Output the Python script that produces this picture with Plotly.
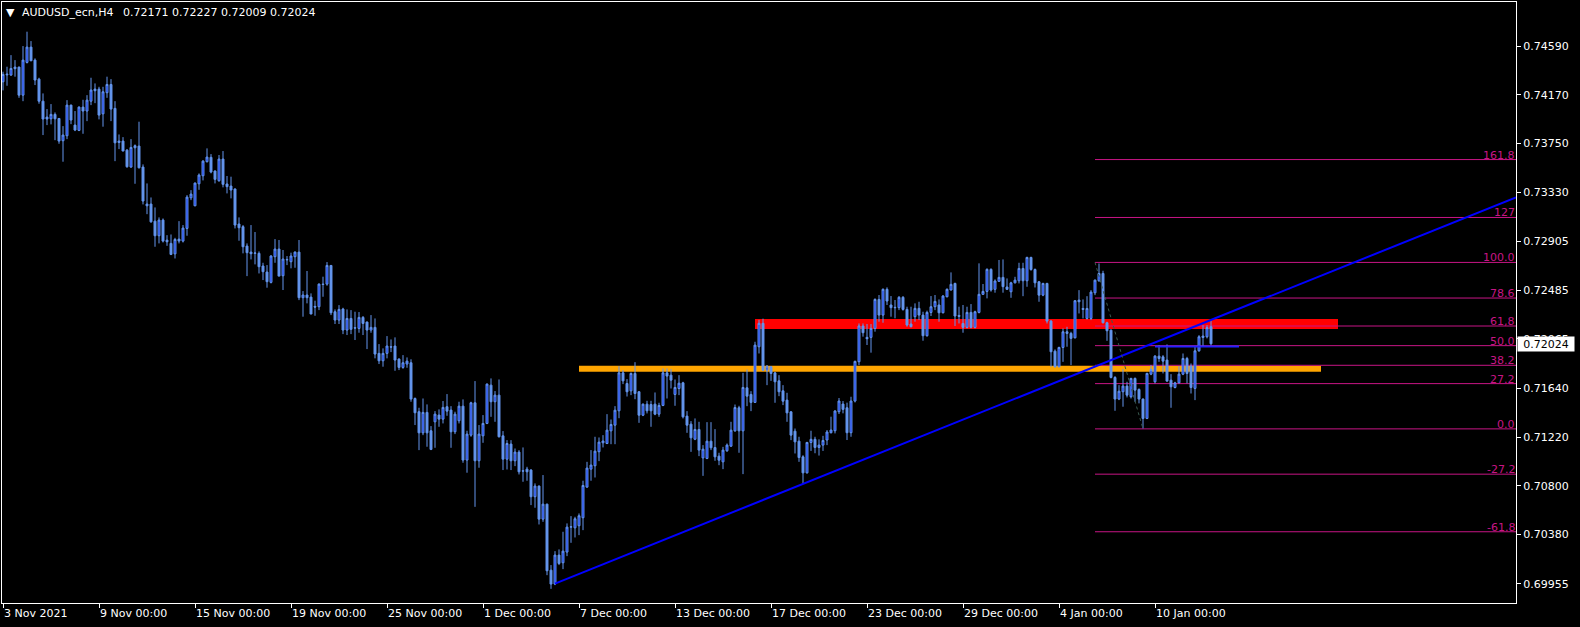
import plotly.graph_objects as go

# ---------------- data (AUDUSD_ecn, H4) ----------------
opens = [
0.74282,0.74349,0.74340,0.74409,0.74409,0.74167,0.74449,0.74581,0.74469,0.74305,
0.74115,0.73978,0.73963,0.74001,0.73966,0.73774,0.73817,0.74081,0.73909,0.73863,
0.74064,0.74030,0.74115,0.74219,0.74219,0.74006,0.74188,0.74259,0.74053,0.73771,
0.73771,0.73693,0.73547,0.73731,0.73728,0.73547,0.73228,0.73228,0.73081,0.72955,
0.73090,0.72917,0.72889,0.72799,0.72926,0.72909,0.73018,0.73282,0.73213,0.73403,
0.73472,0.73593,0.73631,0.73513,0.73429,0.73616,0.73401,0.73383,0.73358,0.73056,
0.73033,0.72866,0.72814,0.72803,0.72803,0.72694,0.72642,0.72553,0.72774,0.72840,
0.72610,0.72751,0.72731,0.72774,0.72814,0.72421,0.72444,0.72426,0.72346,0.72343,
0.72538,0.72538,0.72699,0.72300,0.72228,0.72323,0.72142,0.72242,0.72162,0.72156,
0.72251,0.72211,0.72142,0.72165,0.71941,0.71877,0.71941,0.71998,0.72004,0.71892,
0.71820,0.71849,0.71860,0.71552,0.71438,0.71256,0.71432,0.71274,0.71351,0.71409,
0.71374,0.71481,0.71452,0.71265,0.71360,0.71486,0.71021,0.71236,0.71515,0.71015,
0.71230,0.71337,0.71667,0.71524,0.71581,0.71230,0.71029,0.71159,0.71015,0.71090,
0.70929,0.70943,0.70935,0.70705,0.70797,0.70512,0.70641,0.70072,0.69952,0.70202,
0.70136,0.70228,0.70443,0.70437,0.70455,0.70524,0.70788,0.70943,0.70972,0.71093,
0.71170,0.71164,0.71273,0.71322,0.71446,0.71773,0.71681,0.71618,0.71768,0.71610,
0.71408,0.71503,0.71500,0.71503,0.71417,0.71492,0.71773,0.71753,0.71587,0.71638,
0.71687,0.71400,0.71331,0.71201,0.71285,0.71040,0.71035,0.71184,0.71129,0.71055,
0.71006,0.71101,0.71141,0.71273,0.71472,0.71273,0.71644,0.71587,0.71518,0.71998,
0.72200,0.71796,0.71825,0.71773,0.71704,0.71618,0.71538,0.71437,0.71270,0.71184,
0.71049,0.70911,0.71173,0.71200,0.71130,0.71150,0.71194,0.71257,0.71274,0.71438,
0.71504,0.71472,0.71257,0.71530,0.71869,0.72177,0.72079,0.72079,0.72156,0.72406,
0.72271,0.72493,0.72358,0.72338,0.72335,0.72424,0.72320,0.72194,0.72257,0.72329,
0.72271,0.72093,0.72294,0.72343,0.72358,0.72291,0.72429,0.72487,0.72544,0.72268,
0.72199,0.72165,0.72294,0.72165,0.72294,0.72450,0.72475,0.72665,0.72493,0.72562,
0.72596,0.72513,0.72472,0.72549,0.72567,0.72673,0.72567,0.72768,0.72664,0.72558,
0.72443,0.72544,0.72219,0.71960,0.71825,0.71992,0.72127,0.72113,0.72075,0.72400,
0.72328,0.72242,0.72242,0.72463,0.72567,0.72630,0.72205,0.72141,0.71733,0.71547,
0.71610,0.71659,0.71567,0.71725,0.71630,0.71547,0.71380,0.71762,0.71696,0.71917,
0.71911,0.71883,0.71710,0.71647,0.71687,0.71762,0.71897,0.71831,0.71639,0.71963,
0.72078,0.72084,0.72171]
highs = [
0.74369,0.74412,0.74512,0.74469,0.74412,0.74590,0.74714,0.74633,0.74484,0.74317,
0.74182,0.74047,0.74090,0.74018,0.73970,0.73900,0.74124,0.74085,0.74030,0.74070,
0.74127,0.74167,0.74317,0.74268,0.74239,0.74239,0.74326,0.74305,0.74115,0.73828,
0.73805,0.73702,0.73788,0.73742,0.73938,0.73570,0.73406,0.73285,0.73199,0.73113,
0.73104,0.72960,0.72966,0.72937,0.73081,0.73047,0.73305,0.73348,0.73414,0.73492,
0.73607,0.73708,0.73659,0.73518,0.73651,0.73685,0.73470,0.73464,0.73363,0.73113,
0.73047,0.72889,0.73047,0.72987,0.72820,0.72722,0.72702,0.72788,0.72926,0.72918,
0.72832,0.72780,0.72809,0.72820,0.72918,0.72478,0.72651,0.72458,0.72395,0.72544,
0.72602,0.72728,0.72703,0.72320,0.72357,0.72334,0.72320,0.72314,0.72300,0.72297,
0.72263,0.72215,0.72271,0.72242,0.72021,0.71984,0.72090,0.72061,0.72079,0.71898,
0.71926,0.71906,0.71890,0.71561,0.71472,0.71552,0.71501,0.71314,0.71443,0.71458,
0.71530,0.71590,0.71486,0.71438,0.71524,0.71544,0.71274,0.71524,0.71702,0.71323,
0.71409,0.71682,0.71725,0.71616,0.71716,0.71271,0.71193,0.71193,0.71121,0.71107,
0.71130,0.70963,0.70943,0.70820,0.70802,0.70892,0.70645,0.70116,0.70236,0.70251,
0.70403,0.70475,0.70538,0.70532,0.70561,0.70843,0.71006,0.71107,0.71222,0.71216,
0.71236,0.71417,0.71371,0.71486,0.71831,0.71796,0.71719,0.71776,0.71865,0.71615,
0.71509,0.71532,0.71532,0.71604,0.71515,0.71811,0.71811,0.71805,0.71716,0.71753,
0.71696,0.71443,0.71357,0.71380,0.71351,0.71150,0.71348,0.71348,0.71288,0.71084,
0.71135,0.71164,0.71351,0.71500,0.71489,0.71773,0.71802,0.71615,0.72041,0.72230,
0.72240,0.71839,0.71831,0.71782,0.71753,0.71667,0.71601,0.71443,0.71293,0.71222,
0.71063,0.71178,0.71274,0.71222,0.71200,0.71230,0.71280,0.71395,0.71452,0.71556,
0.71530,0.71516,0.71567,0.71878,0.72199,0.72199,0.72194,0.72194,0.72415,0.72444,
0.72501,0.72510,0.72435,0.72401,0.72435,0.72435,0.72343,0.72343,0.72372,0.72386,
0.72300,0.72309,0.72435,0.72444,0.72406,0.72444,0.72501,0.72639,0.72550,0.72343,
0.72358,0.72343,0.72366,0.72309,0.72717,0.72539,0.72674,0.72674,0.72579,0.72746,
0.72751,0.72587,0.72558,0.72601,0.72722,0.72722,0.72774,0.72774,0.72673,0.72564,
0.72549,0.72549,0.72228,0.71975,0.71998,0.72156,0.72170,0.72127,0.72400,0.72486,
0.72406,0.72434,0.72486,0.72578,0.72716,0.72653,0.72213,0.72147,0.71745,0.71667,
0.71805,0.71696,0.71730,0.71733,0.71639,0.71552,0.71774,0.71840,0.71926,0.72012,
0.71926,0.72018,0.71762,0.71696,0.71831,0.71940,0.71911,0.71854,0.72003,0.72098,
0.72184,0.72184,0.72227]
lows = [
0.74208,0.74248,0.74334,0.74326,0.74144,0.74115,0.74440,0.74463,0.74254,0.74093,
0.73823,0.73909,0.73915,0.73779,0.73748,0.73593,0.73788,0.73917,0.73857,0.73857,
0.73834,0.73943,0.74081,0.74098,0.73958,0.73895,0.74144,0.73943,0.73598,0.73702,
0.73685,0.73541,0.73541,0.73403,0.73535,0.73225,0.73141,0.73067,0.72860,0.72889,
0.72897,0.72868,0.72788,0.72759,0.72889,0.72897,0.72955,0.73262,0.73210,0.73351,
0.73432,0.73587,0.73493,0.73406,0.73421,0.73372,0.73320,0.73277,0.73018,0.72912,
0.72803,0.72607,0.72751,0.72708,0.72630,0.72573,0.72507,0.72544,0.72722,0.72607,
0.72487,0.72702,0.72674,0.72679,0.72400,0.72257,0.72372,0.72280,0.72265,0.72314,
0.72429,0.72524,0.72271,0.72194,0.72194,0.72107,0.72099,0.72107,0.72056,0.72119,
0.72099,0.71978,0.72119,0.71898,0.71849,0.71826,0.71898,0.71952,0.71791,0.71797,
0.71808,0.71817,0.71524,0.71323,0.71107,0.71236,0.71136,0.71107,0.71127,0.71308,
0.71337,0.71403,0.71127,0.71245,0.71337,0.70998,0.70912,0.71222,0.70618,0.70955,
0.71170,0.71331,0.71394,0.71351,0.71216,0.70935,0.70940,0.70935,0.70969,0.70897,
0.70834,0.70843,0.70633,0.70610,0.70466,0.70489,0.70029,0.69911,0.69943,0.70116,
0.70081,0.70193,0.70308,0.70354,0.70374,0.70417,0.70782,0.70843,0.70871,0.71012,
0.71130,0.71159,0.71158,0.71158,0.71382,0.71676,0.71569,0.71581,0.71546,0.71342,
0.71400,0.71423,0.71308,0.71408,0.71394,0.71486,0.71552,0.71638,0.71489,0.71581,
0.71380,0.71256,0.71092,0.71193,0.71055,0.70885,0.71029,0.71107,0.71015,0.70977,
0.70943,0.71092,0.71135,0.71265,0.71084,0.70900,0.71486,0.71443,0.71515,0.71940,
0.71790,0.71667,0.71704,0.71515,0.71572,0.71495,0.71351,0.71193,0.71078,0.71006,
0.70819,0.70905,0.71100,0.71080,0.71060,0.71100,0.71150,0.71251,0.71251,0.71418,
0.71424,0.71194,0.71222,0.71518,0.71840,0.72085,0.72013,0.71947,0.72128,0.72214,
0.72205,0.72358,0.72257,0.72243,0.72314,0.72309,0.72171,0.72165,0.72214,0.72228,
0.72050,0.72085,0.72263,0.72314,0.72214,0.72286,0.72424,0.72484,0.72177,0.72199,
0.72119,0.72156,0.72156,0.72156,0.72286,0.72444,0.72415,0.72473,0.72464,0.72559,
0.72464,0.72487,0.72420,0.72544,0.72544,0.72434,0.72515,0.72653,0.72509,0.72386,
0.72434,0.72199,0.71825,0.71820,0.71820,0.71868,0.71998,0.71840,0.72070,0.72285,
0.72242,0.72233,0.72228,0.72443,0.72558,0.72199,0.72049,0.71725,0.71446,0.71538,
0.71481,0.71561,0.71552,0.71524,0.71510,0.71294,0.71374,0.71753,0.71682,0.71868,
0.71768,0.71696,0.71472,0.71639,0.71682,0.71753,0.71682,0.71595,0.71538,0.71955,
0.71998,0.72070,0.72009]
closes = [
0.74346,0.74343,0.74397,0.74395,0.74167,0.74469,0.74581,0.74463,0.74297,0.74115,
0.73961,0.73961,0.74001,0.73963,0.73771,0.73823,0.74081,0.73952,0.73866,0.74064,
0.74030,0.74124,0.74211,0.74205,0.73995,0.74196,0.74259,0.74047,0.73756,0.73759,
0.73685,0.73550,0.73716,0.73713,0.73541,0.73254,0.73213,0.73075,0.72955,0.73090,
0.72909,0.72903,0.72794,0.72923,0.72909,0.73021,0.73288,0.73314,0.73409,0.73478,
0.73598,0.73633,0.73504,0.73441,0.73616,0.73398,0.73378,0.73349,0.73047,0.73024,
0.72860,0.72809,0.72800,0.72806,0.72688,0.72645,0.72559,0.72780,0.72840,0.72607,
0.72754,0.72748,0.72780,0.72814,0.72421,0.72444,0.72421,0.72280,0.72340,0.72538,
0.72535,0.72699,0.72291,0.72228,0.72320,0.72142,0.72242,0.72148,0.72159,0.72251,
0.72199,0.72142,0.72165,0.71935,0.71877,0.71941,0.72004,0.71995,0.71883,0.71820,
0.71860,0.71874,0.71547,0.71429,0.71256,0.71432,0.71256,0.71113,0.71417,0.71374,
0.71475,0.71443,0.71265,0.71417,0.71486,0.71021,0.71245,0.71515,0.71015,0.71245,
0.71337,0.71676,0.71524,0.71581,0.71222,0.71029,0.71164,0.71015,0.71090,0.70920,
0.70926,0.70920,0.70705,0.70797,0.70512,0.70641,0.70067,0.69952,0.70202,0.70130,
0.70236,0.70443,0.70446,0.70515,0.70541,0.70802,0.70952,0.70978,0.71098,0.71176,
0.71185,0.71279,0.71328,0.71451,0.71773,0.71704,0.71610,0.71768,0.71595,0.71408,
0.71503,0.71446,0.71446,0.71417,0.71492,0.71773,0.71745,0.71710,0.71647,0.71684,
0.71394,0.71322,0.71213,0.71285,0.71107,0.71115,0.71184,0.71127,0.71049,0.71020,
0.71107,0.71150,0.71279,0.71474,0.71273,0.71647,0.71572,0.71518,0.72012,0.72200,
0.71796,0.71831,0.71768,0.71696,0.71610,0.71529,0.71428,0.71236,0.71178,0.71043,
0.70911,0.71173,0.71200,0.71130,0.71150,0.71190,0.71263,0.71280,0.71444,0.71530,
0.71458,0.71257,0.71530,0.71872,0.72177,0.72119,0.72067,0.72156,0.72406,0.72271,
0.72493,0.72392,0.72335,0.72335,0.72424,0.72320,0.72185,0.72171,0.72329,0.72271,
0.72093,0.72294,0.72343,0.72389,0.72291,0.72435,0.72493,0.72536,0.72263,0.72260,
0.72165,0.72294,0.72165,0.72300,0.72450,0.72475,0.72665,0.72487,0.72565,0.72596,
0.72516,0.72493,0.72549,0.72572,0.72673,0.72567,0.72768,0.72664,0.72549,0.72443,
0.72544,0.72219,0.71955,0.71825,0.71992,0.72127,0.72113,0.72070,0.72395,0.72386,
0.72320,0.72328,0.72469,0.72572,0.72630,0.72205,0.72136,0.71733,0.71547,0.71615,
0.71659,0.71581,0.71725,0.71624,0.71547,0.71380,0.71768,0.71802,0.71917,0.71897,
0.71874,0.71702,0.71653,0.71687,0.71762,0.71897,0.71768,0.71647,0.71963,0.72084,
0.72090,0.72164,0.72024]

# x-axis: bar numbers where MT4 prints its time labels
time_tick_bars = [0, 24, 48, 72, 96, 120, 144, 168, 192, 216, 240, 264, 288]
time_tick_labels = ["3 Nov 2021", "9 Nov 00:00", "15 Nov 00:00", "19 Nov 00:00",
                    "25 Nov 00:00", "1 Dec 00:00", "7 Dec 00:00", "13 Dec 00:00",
                    "17 Dec 00:00", "23 Dec 00:00", "29 Dec 00:00", "4 Jan 00:00",
                    "10 Jan 00:00"]
price_ticks = [0.74590, 0.74170, 0.73750, 0.73330, 0.72905, 0.72485,
               0.72065, 0.71640, 0.71220, 0.70800, 0.70380, 0.69955]

# chart objects
fib_ratios = [1.618, 1.27, 1.0, 0.786, 0.618, 0.5, 0.382, 0.272, 0.0, -0.272, -0.618]
fib_labels = ["161.8", "127", "100.0", "78.6", "61,8", "50.0", "38.2", "27.2", "0.0", "-27.2", "-61.8"]
fib_anchor_bars = [273, 285]           # 100% point, 0% point
fib_anchor_prices = [0.72725, 0.71290]
trend_bars = [138, 303]
trend_prices = [0.69956, 0.72243]
resistance_bars = [188, 333.75]
resistance_prices = [0.72151, 0.72237]
support_bars = [144, 329.5]
support_prices = [0.71783, 0.71834]
short_line_bars = [288, 309]
short_line_price = 0.72001
symbol = "AUDUSD_ecn,H4"
last_ohlc = [opens[-1], highs[-1], lows[-1], closes[-1]]

# ---------------- layout geometry ----------------
W, H = 1580, 627
PL, PR, PT, PB = 2, 1516, 2, 603   # plot area in pixels
x_range = [-0.25, 378.25]
y_range = [0.69789, 0.74970]

def paper_x(px):
    return (px - PL) / (PR - PL)

def paper_y(py):
    return (PB - py) / (PB - PT)

bars = list(range(len(closes)))
FONT = "DejaVu Sans"
FIB_COLOR = "#C71585"

fig = go.Figure()

fig.add_trace(go.Candlestick(
    x=bars, open=opens, high=highs, low=lows, close=closes,
    increasing=dict(line=dict(color="#6495ED", width=1), fillcolor="#1434E6"),
    decreasing=dict(line=dict(color="#6495ED", width=1), fillcolor="#6495ED"),
    whiskerwidth=0, hoverinfo="skip", showlegend=False,
))

# trend line (ray to the right edge)
slope = (trend_prices[1] - trend_prices[0]) / (trend_bars[1] - trend_bars[0])
ray_end = trend_prices[0] + slope * (x_range[1] - trend_bars[0])
fig.add_trace(go.Scatter(x=[trend_bars[0], x_range[1]], y=[trend_prices[0], ray_end],
                         mode="lines", line=dict(color="#0000FF", width=2),
                         hoverinfo="skip", showlegend=False))
# short horizontal line
fig.add_trace(go.Scatter(x=short_line_bars, y=[short_line_price] * 2, mode="lines",
                         line=dict(color="#2222FF", width=2), hoverinfo="skip", showlegend=False))
# fibo base line
fig.add_trace(go.Scatter(x=fib_anchor_bars, y=fib_anchor_prices, mode="lines",
                         line=dict(color="#3A5A50", width=1, dash="dot"),
                         hoverinfo="skip", showlegend=False))

shapes = []
shapes.append(dict(type="rect", xref="x", yref="y", x0=resistance_bars[0], x1=resistance_bars[1],
                   y0=resistance_prices[0], y1=resistance_prices[1],
                   fillcolor="#FF0000", line=dict(width=0), layer="below"))
shapes.append(dict(type="rect", xref="x", yref="y", x0=support_bars[0], x1=support_bars[1],
                   y0=support_prices[0], y1=support_prices[1],
                   fillcolor="#FFA500", line=dict(width=0), layer="below"))

annotations = []
rng = fib_anchor_prices[0] - fib_anchor_prices[1]
for r, lab in zip(fib_ratios, fib_labels):
    lvl = fib_anchor_prices[1] + r * rng
    shapes.append(dict(type="line", xref="x", yref="y", x0=fib_anchor_bars[0], x1=x_range[1],
                       y0=lvl, y1=lvl, line=dict(color=FIB_COLOR, width=1), layer="below"))
    annotations.append(dict(xref="paper", yref="y", x=paper_x(1516), y=lvl, text=lab,
                            xanchor="right", yanchor="bottom", showarrow=False,
                            yshift=-3, borderpad=0,
                            font=dict(family=FONT, size=11, color=FIB_COLOR)))

# title
annotations.append(dict(xref="paper", yref="paper", x=paper_x(5), y=paper_y(12.5), text="▼",
                        xanchor="left", yanchor="middle", showarrow=False, borderpad=0,
                        font=dict(family=FONT, size=11, color="white")))
annotations.append(dict(xref="paper", yref="paper", x=paper_x(21), y=paper_y(12.5), text=symbol,
                        xanchor="left", yanchor="middle", showarrow=False, borderpad=0,
                        font=dict(family=FONT, size=11, color="white")))
annotations.append(dict(xref="paper", yref="paper", x=paper_x(122), y=paper_y(12.5),
                        text=" ".join(f"{v:.5f}" for v in last_ohlc),
                        xanchor="left", yanchor="middle", showarrow=False, borderpad=0,
                        font=dict(family=FONT, size=11, color="white")))
# current price label
annotations.append(dict(xref="paper", yref="y", x=paper_x(1517), y=closes[-1],
                        text=f"{closes[-1]:.5f}", xanchor="left", yanchor="middle",
                        showarrow=False, bgcolor="white", borderpad=1, width=54, height=12,
                        align="center", font=dict(family=FONT, size=11, color="black")))

fig.update_layout(
    template="none",
    width=W, height=H,
    margin=dict(l=PL, r=W - PR, t=PT, b=H - PB, pad=0),
    paper_bgcolor="black", plot_bgcolor="black",
    showlegend=False,
    shapes=shapes, annotations=annotations,
    font=dict(family=FONT, size=11, color="white"),
    xaxis=dict(range=x_range, showgrid=False, zeroline=False, automargin=False,
               showline=True, linecolor="white", linewidth=1, mirror=True,
               tickmode="array", tickvals=time_tick_bars, ticktext=time_tick_labels,
               ticks="outside", ticklen=4, tickcolor="white", tickwidth=1,
               ticklabelposition="outside right",
               tickfont=dict(family=FONT, size=11, color="white"),
               rangeslider=dict(visible=False), fixedrange=True),
    yaxis=dict(range=y_range, side="right", showgrid=False, zeroline=False, automargin=False,
               showline=True, linecolor="white", linewidth=1, mirror=True,
               tickmode="array", tickvals=price_ticks,
               ticktext=[f"{v:.5f}" for v in price_ticks],
               ticks="outside", ticklen=4, tickcolor="white", tickwidth=1,
               tickfont=dict(family=FONT, size=11, color="white"), fixedrange=True),
)

fig.write_html("out.html", config={"displayModeBar": False},
               post_script="document.body.style.margin='0px';document.body.style.overflow='hidden';")
